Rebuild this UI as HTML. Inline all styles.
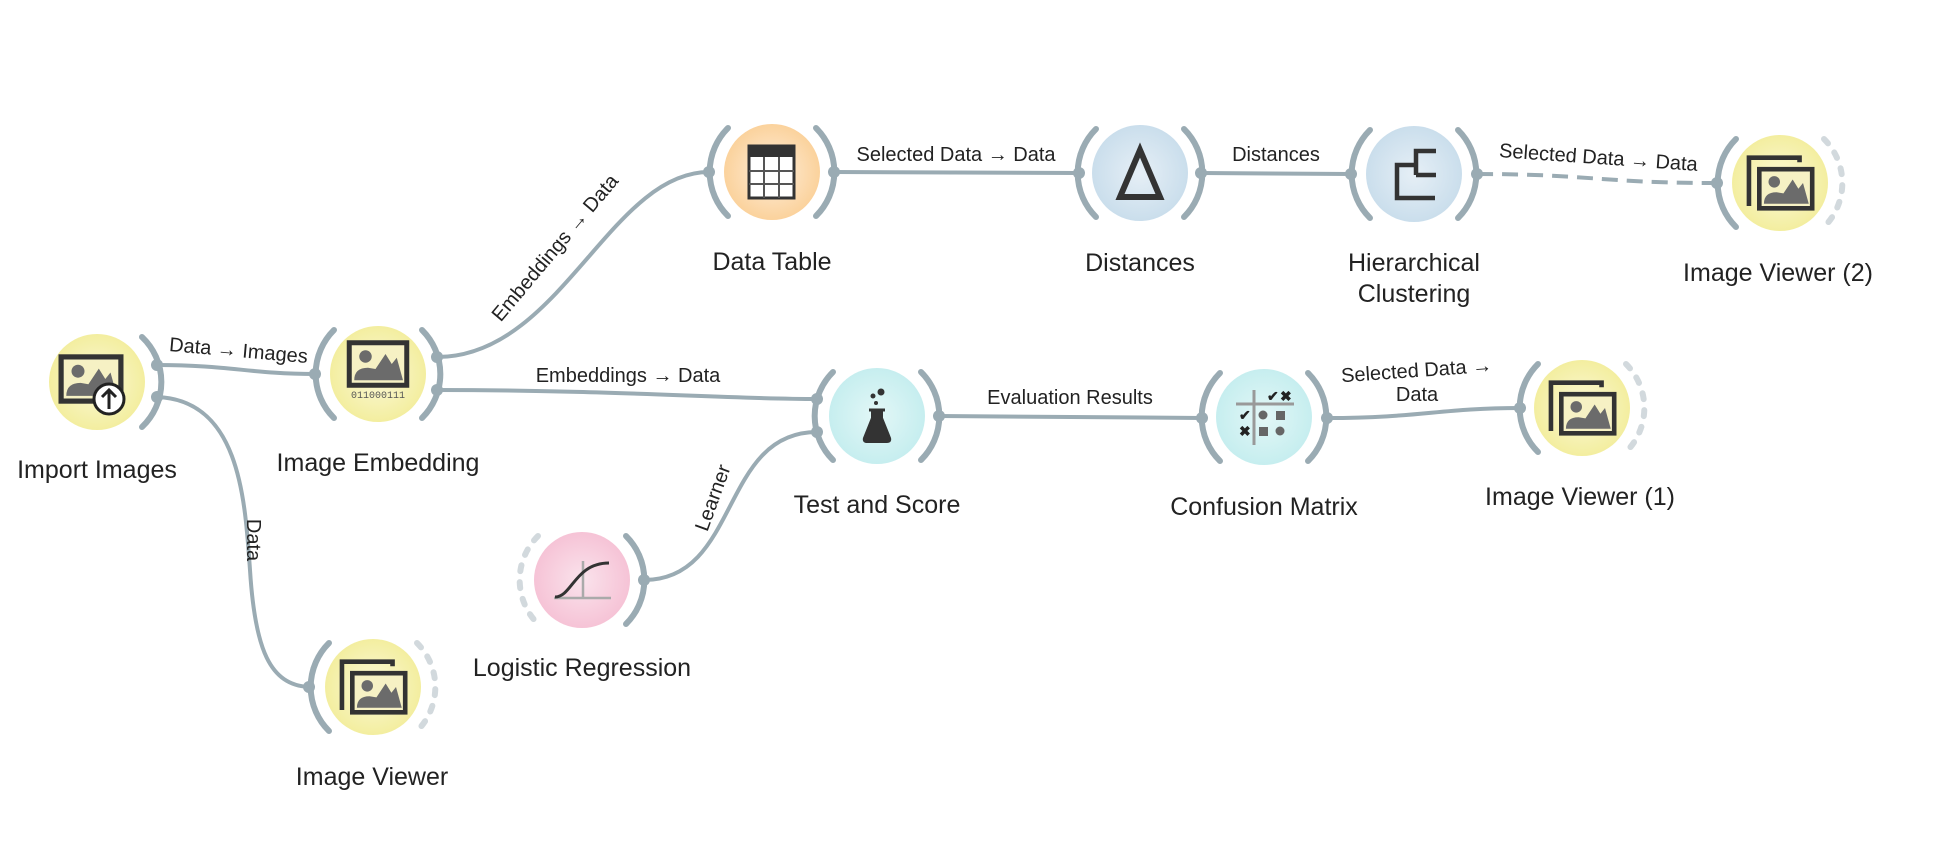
<!DOCTYPE html>
<html><head><meta charset="utf-8"><style>
html,body{margin:0;padding:0;background:#fff;}
svg{display:block;}
text{font-family:"Liberation Sans",sans-serif;fill:#222;}
.nl{font-size:25px;text-anchor:middle;}
.ll{font-size:20px;text-anchor:middle;}
.arc{fill:none;stroke:#9aabb3;stroke-width:6;stroke-linecap:round;}
.darc{fill:none;stroke:#d2d9dd;stroke-width:6;stroke-linecap:round;stroke-dasharray:6 11;}
.lk{fill:none;stroke:#9aabb3;stroke-width:4;}
.dot{fill:#9aabb3;}
</style></head><body>
<svg width="1944" height="846" viewBox="0 0 1944 846" xmlns="http://www.w3.org/2000/svg">
<defs>
<radialGradient id="gy"><stop offset="0" stop-color="#fbf8d8"/><stop offset="1" stop-color="#f3ee9f"/></radialGradient>
<radialGradient id="go"><stop offset="0" stop-color="#fdeedb"/><stop offset="1" stop-color="#fbd29c"/></radialGradient>
<radialGradient id="gb"><stop offset="0" stop-color="#e6eff6"/><stop offset="1" stop-color="#cadeec"/></radialGradient>
<radialGradient id="gc"><stop offset="0" stop-color="#e3f7f7"/><stop offset="1" stop-color="#c6eeef"/></radialGradient>
<radialGradient id="gp"><stop offset="0" stop-color="#fae3ec"/><stop offset="1" stop-color="#f6c3d6"/></radialGradient>
<g id="pic">
<rect x="-23" y="-17" width="46" height="34" fill="#f6f1c4" stroke="#333" stroke-width="4"/>
<circle cx="-10" cy="-6" r="5" fill="#6b6b6b"/>
<path d="M-19 13 Q-19 3 -8 3 L-2 4 L6 -8 L11 0 L15 -5 L20 13 Z" fill="#6b6b6b"/>
</g>
<g id="viewer">
<path d="M-27 20 V-22 H17 V-18" fill="none" stroke="#333" stroke-width="4"/>
<use href="#pic" transform="translate(5,5)"/>
</g>
</defs>

<!-- links -->
<path class="lk" d="M157,365 C230,365 250,374 315,374"/>
<path class="lk" d="M157,397 C240,400 245,500 250,570 C255,650 270,685 309,687"/>
<path class="lk" d="M437,357 C560,357 610,172 709,172"/>
<path class="lk" d="M437,390 C620,390 720,399 817,399"/>
<path class="lk" d="M834,172 L1079,173"/>
<path class="lk" d="M1201,173 L1351,174"/>
<path class="lk" d="M1477,174 C1590,174 1600,183 1717,183" stroke-dasharray="16 9"/>
<path class="lk" d="M644,580 C740,580 720,432 817,432"/>
<path class="lk" d="M939,416 L1202,418"/>
<path class="lk" d="M1327,418 C1420,418 1440,408 1520,408"/>

<!-- link labels -->
<text class="ll" transform="translate(238,357) rotate(5)">Data → Images</text>
<text class="ll" transform="translate(560,252) rotate(-50)">Embeddings → Data</text>
<text class="ll" x="628" y="382">Embeddings → Data</text>
<text class="ll" x="956" y="161">Selected Data → Data</text>
<text class="ll" x="1276" y="161">Distances</text>
<text class="ll" transform="translate(1598,164) rotate(4)">Selected Data → Data</text>
<text class="ll" x="1070" y="404">Evaluation Results</text>
<text class="ll" transform="translate(1417,377) rotate(-4)">Selected Data →</text>
<text class="ll" x="1417" y="401">Data</text>
<text class="ll" transform="translate(719,500) rotate(-70)">Learner</text>
<text class="ll" transform="translate(247,540) rotate(90)">Data</text>

<!-- Import Images -->
<circle cx="97" cy="382" r="48" fill="url(#gy)"/>
<path class="arc" d="M142,337 A62 62 0 0 1 142,427"/>
<use href="#pic" transform="translate(91,379) scale(1.3)"/>
<circle cx="109" cy="399" r="15" fill="#fff" stroke="#222" stroke-width="3"/>
<path d="M109,409 V391 M102,397 L109,390 L116,397" fill="none" stroke="#222" stroke-width="3"/>
<text class="nl" x="97" y="478">Import Images</text>

<!-- Image Embedding -->
<circle cx="378" cy="374" r="48" fill="url(#gy)"/>
<path class="arc" d="M334,330 A62 62 0 0 0 334,418"/>
<path class="arc" d="M422,330 A62 62 0 0 1 422,418"/>
<use href="#pic" transform="translate(378,364) scale(1.25)"/>
<text x="378" y="398" style="font-family:'Liberation Mono',monospace;font-size:10px;text-anchor:middle;fill:#555">011000111</text>
<text class="nl" x="378" y="471">Image Embedding</text>

<!-- Data Table -->
<circle cx="772" cy="172" r="48" fill="url(#go)"/>
<path class="arc" d="M728,128 A62 62 0 0 0 728,216"/>
<path class="arc" d="M816,128 A62 62 0 0 1 816,216"/>
<rect x="749" y="146" width="45" height="52" fill="#fff" stroke="#333" stroke-width="3"/>
<rect x="749" y="146" width="45" height="11" fill="#333"/>
<path d="M764,157 V198 M779,157 V198 M749,171 H794 M749,184 H794" stroke="#555" stroke-width="2"/>
<text class="nl" x="772" y="270">Data Table</text>

<!-- Distances -->
<circle cx="1140" cy="173" r="48" fill="url(#gb)"/>
<path class="arc" d="M1096,129 A62 62 0 0 0 1096,217"/>
<path class="arc" d="M1184,129 A62 62 0 0 1 1184,217"/>
<path d="M1140,150 L1160,197 L1120,197 Z" fill="none" stroke="#333" stroke-width="6"/>
<text class="nl" x="1140" y="271">Distances</text>

<!-- Hierarchical Clustering -->
<circle cx="1414" cy="174" r="48" fill="url(#gb)"/>
<path class="arc" d="M1370,130 A62 62 0 0 0 1370,218"/>
<path class="arc" d="M1458,130 A62 62 0 0 1 1458,218"/>
<path d="M1435,198 H1397 V165 H1416 M1416,175 V151 H1436 M1416,175 H1436" fill="none" stroke="#333" stroke-width="4.5"/>
<text class="nl" x="1414" y="271">Hierarchical</text>
<text class="nl" x="1414" y="302">Clustering</text>

<!-- Image Viewer (2) -->
<circle cx="1780" cy="183" r="48" fill="url(#gy)"/>
<path class="arc" d="M1736,139 A62 62 0 0 0 1736,227"/>
<path class="darc" d="M1824,139 A62 62 0 0 1 1824,227"/>
<use href="#viewer" transform="translate(1780,183) scale(1.15)"/>
<text class="nl" x="1778" y="281">Image Viewer (2)</text>

<!-- Test and Score -->
<circle cx="877" cy="416" r="48" fill="url(#gc)"/>
<path class="arc" d="M833,372 A62 62 0 0 0 833,460"/>
<path class="arc" d="M921,372 A62 62 0 0 1 921,460"/>
<path d="M872,409 V418 L864,438 Q863,442 867,442 H887 Q891,442 890,438 L882,418 V409" fill="#333" stroke="#333" stroke-width="2"/>
<path d="M869,410 H885" stroke="#333" stroke-width="3"/>
<circle cx="873" cy="396" r="2.5" fill="#333"/><circle cx="881" cy="392" r="3.5" fill="#333"/><circle cx="876" cy="403" r="2" fill="#333"/>
<text class="nl" x="877" y="513">Test and Score</text>

<!-- Confusion Matrix -->
<circle cx="1264" cy="417" r="48" fill="url(#gc)"/>
<path class="arc" d="M1220,373 A62 62 0 0 0 1220,461"/>
<path class="arc" d="M1308,373 A62 62 0 0 1 1308,461"/>
<path d="M1236,404 H1294 M1254,390 V445" stroke="#999" stroke-width="3"/>
<text x="1267" y="401" style="font-size:14px;font-weight:bold">✔</text>
<text x="1280" y="401" style="font-size:14px;font-weight:bold">✖</text>
<text x="1239" y="420" style="font-size:14px;font-weight:bold">✔</text>
<text x="1239" y="436" style="font-size:14px;font-weight:bold">✖</text>
<circle cx="1263" cy="415" r="4.5" fill="#666"/><rect x="1276" y="411" width="9" height="9" fill="#666"/>
<rect x="1259" y="427" width="9" height="9" fill="#666"/><circle cx="1280" cy="431" r="4.5" fill="#666"/>
<text class="nl" x="1264" y="515">Confusion Matrix</text>

<!-- Image Viewer (1) -->
<circle cx="1582" cy="408" r="48" fill="url(#gy)"/>
<path class="arc" d="M1538,364 A62 62 0 0 0 1538,452"/>
<path class="darc" d="M1626,364 A62 62 0 0 1 1626,452"/>
<use href="#viewer" transform="translate(1582,408) scale(1.15)"/>
<text class="nl" x="1580" y="505">Image Viewer (1)</text>

<!-- Logistic Regression -->
<circle cx="582" cy="580" r="48" fill="url(#gp)"/>
<path class="darc" d="M538,536 A62 62 0 0 0 538,624"/>
<path class="arc" d="M626,536 A62 62 0 0 1 626,624"/>
<path d="M554,598 H611 M583,561 V598" stroke="#aaa" stroke-width="2.5"/>
<path d="M555,597 C572,597 575,563 609,563" fill="none" stroke="#333" stroke-width="3"/>
<text class="nl" x="582" y="676">Logistic Regression</text>

<!-- Image Viewer -->
<circle cx="373" cy="687" r="48" fill="url(#gy)"/>
<path class="arc" d="M329,643 A62 62 0 0 0 329,731"/>
<path class="darc" d="M417,643 A62 62 0 0 1 417,731"/>
<use href="#viewer" transform="translate(373,687) scale(1.15)"/>
<text class="nl" x="372" y="785">Image Viewer</text>

<!-- dots -->
<g class="dot">
<circle cx="157" cy="365" r="6"/><circle cx="157" cy="397" r="6"/>
<circle cx="315" cy="374" r="6"/><circle cx="437" cy="357" r="6"/><circle cx="437" cy="390" r="6"/>
<circle cx="709" cy="172" r="6"/><circle cx="834" cy="172" r="6"/>
<circle cx="1079" cy="173" r="6"/><circle cx="1201" cy="173" r="6"/>
<circle cx="1351" cy="174" r="6"/><circle cx="1477" cy="174" r="6"/>
<circle cx="1717" cy="183" r="6"/>
<circle cx="817" cy="399" r="6"/><circle cx="817" cy="432" r="6"/><circle cx="939" cy="416" r="6"/>
<circle cx="1202" cy="418" r="6"/><circle cx="1327" cy="418" r="6"/>
<circle cx="1520" cy="408" r="6"/><circle cx="644" cy="580" r="6"/><circle cx="309" cy="687" r="6"/>
</g>
</svg>
</body></html>
